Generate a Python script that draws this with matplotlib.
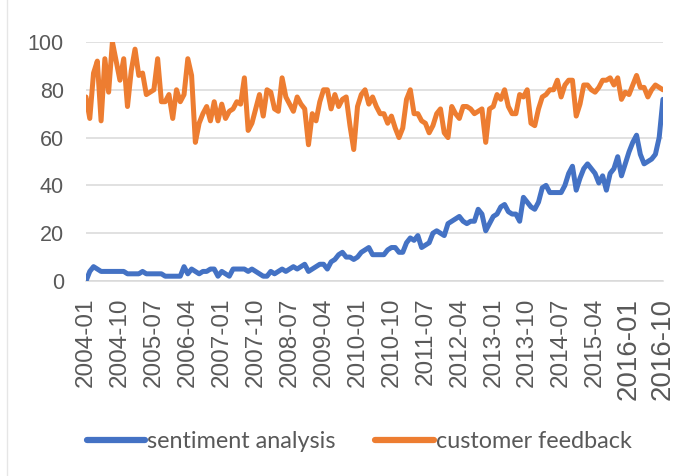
import matplotlib
matplotlib.use("Agg")
from matplotlib import pyplot as plt
from matplotlib.lines import Line2D
import pandas as pd

# monthly index values, 2004-01 .. 2016-10
months = pd.date_range("2004-01-01", "2016-10-01", freq="MS").strftime("%Y-%m").tolist()

sentiment = [0, 4, 6, 5, 4, 4, 4, 4, 4, 4, 4, 3, 3, 3, 3, 4, 3, 3, 3, 3,
             3, 2, 2, 2, 2, 2, 6, 3, 5, 4, 3, 4, 4, 5, 5, 2, 4, 3, 2, 5,
             5, 5, 5, 4, 5, 4, 3, 2, 2, 4, 3, 4, 5, 4, 5, 6, 5, 6, 7, 4,
             5, 6, 7, 7, 5, 8, 9, 11, 12, 10, 10, 9, 10, 12, 13, 14, 11, 11, 11, 11,
             13, 14, 14, 12, 12, 16, 18, 17, 19, 14, 15, 16, 20, 21, 20, 19, 24, 25, 26, 27,
             25, 24, 25, 25, 30, 28, 21, 24, 27, 28, 31, 32, 29, 28, 28, 25, 35, 33, 31, 30,
             33, 39, 40, 37, 37, 37, 37, 40, 45, 48, 38, 43, 47, 49, 47, 45, 41, 44, 38, 45,
             47, 52, 44, 49, 54, 58, 61, 53, 49, 50, 51, 53, 60, 76]

feedback = [77, 68, 87, 92, 67, 93, 79, 100, 92, 84, 93, 73, 88, 97, 86, 87, 78, 79, 80, 93,
            75, 75, 78, 68, 80, 75, 78, 93, 86, 58, 66, 70, 73, 67, 75, 67, 74, 68, 71, 72,
            75, 74, 85, 63, 66, 72, 78, 69, 80, 79, 72, 71, 85, 77, 74, 71, 77, 74, 72, 57,
            70, 67, 75, 80, 80, 72, 78, 73, 76, 77, 65, 55, 73, 78, 80, 74, 77, 73, 70, 70,
            66, 69, 64, 60, 64, 76, 80, 70, 70, 67, 66, 62, 65, 70, 72, 62, 60, 73, 70, 68,
            73, 73, 72, 70, 71, 72, 58, 72, 73, 78, 76, 80, 73, 70, 70, 78, 77, 80, 66, 65,
            72, 77, 78, 80, 80, 84, 77, 82, 84, 84, 69, 74, 82, 82, 80, 79, 81, 84, 84, 85,
            82, 85, 76, 79, 78, 82, 86, 81, 81, 77, 80, 82, 81, 80]

series_names = ["sentiment analysis", "customer feedback"]
colors = ["#4472C4", "#ED7D31"]

fig = plt.figure(figsize=(6.74, 4.76), dpi=100)
ax = fig.add_axes([0.1276, 0.4097, 0.856, 0.5021])

# faint chart-area border on the left
fig.add_artist(Line2D([0.011, 0.011], [0.0, 1.0], color="#E6E6E6", lw=1, transform=fig.transFigure))

x = list(range(len(months)))
ax.plot(x, sentiment, color=colors[0], lw=3.6, solid_joinstyle="round",
        solid_capstyle="round", label=series_names[0], zorder=3)
ax.plot(x, feedback, color=colors[1], lw=3.6, solid_joinstyle="round",
        solid_capstyle="round", label=series_names[1], zorder=3)

ax.set_xlim(0, len(months) - 1)
ax.set_ylim(0, 100)
ax.set_yticks(range(0, 101, 20))
ax.yaxis.grid(True, color="#D9D9D9", lw=1.1)
ax.set_axisbelow(True)
for s in ["top", "right", "left"]:
    ax.spines[s].set_visible(False)
ax.spines["bottom"].set_color("#D9D9D9")
ax.spines["bottom"].set_linewidth(1.1)
ax.tick_params(length=0, colors="#595959")
ax.tick_params(axis="y", labelsize=15.5, pad=16)

tick_pos = list(range(0, len(months), 9))
ax.set_xticks(tick_pos)
ax.set_xticklabels([months[i] for i in tick_pos], rotation=90, fontsize=17.5,
                   family="Liberation Sans", color="#595959")
for lab in ax.get_xticklabels()[-2:]:
    lab.set_fontsize(20)
for lab in ax.get_yticklabels():
    lab.set_family("Liberation Sans")
ax.tick_params(axis="x", pad=12)

leg = fig.legend(loc="center", bbox_to_anchor=(0.533, 0.073), ncol=2, frameon=False,
                 prop={"family": "Lato", "size": 16.8}, handlelength=2.5,
                 handletextpad=0.1, columnspacing=1.7)
for t in leg.get_texts():
    t.set_color("#595959")
for h in leg.legend_handles:
    h.set_linewidth(4.5)

fig.savefig("out.png", dpi=100)
